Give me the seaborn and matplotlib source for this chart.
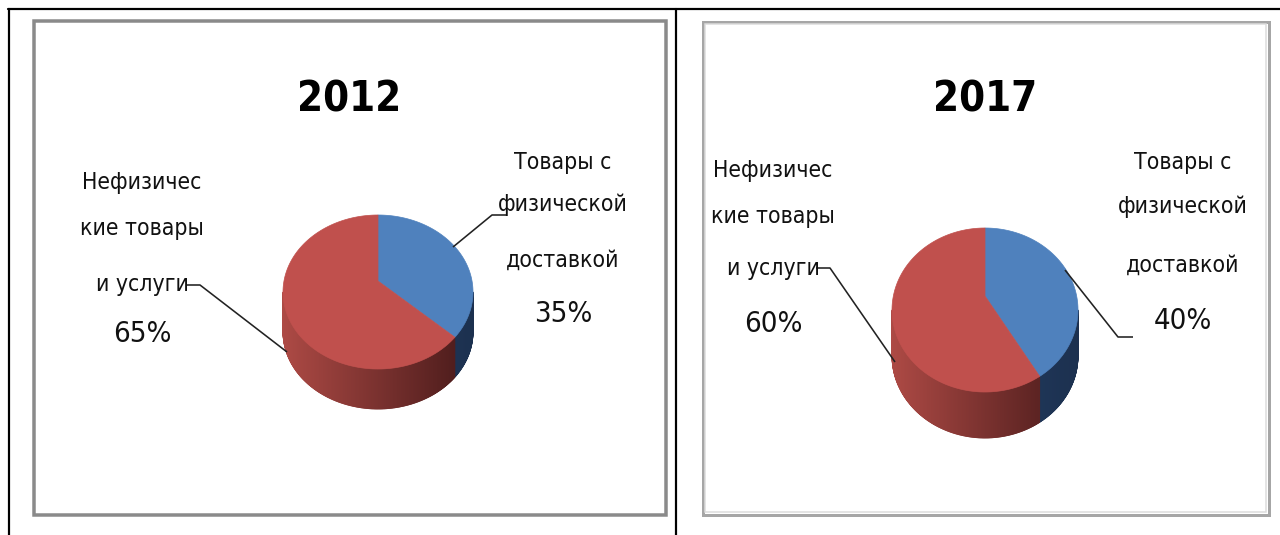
import numpy as np
import matplotlib
matplotlib.use("Agg")
import matplotlib.pyplot as plt
from matplotlib.patches import Polygon, Rectangle
from matplotlib.collections import PolyCollection
import seaborn as sns

# ---- data ----
years = ["2012", "2017"]
categories = ["Товары с физической доставкой", "Нефизические товары и услуги"]
shares_2012 = [35, 65]
shares_2017 = [40, 60]
label_lines_physical = ["Товары с", "физической", "доставкой"]
label_lines_digital = ["Нефизичес", "кие товары", "и услуги"]

sns.set_theme(style="white")
plt.rcParams["font.family"] = ["DejaVu Sans"]
plt.rcParams["font.stretch"] = "condensed"

top_colors = sns.color_palette(["#4F81BD", "#C0504D"])
side_light = [np.array([0.16, 0.28, 0.45]), np.array([0.68, 0.29, 0.27])]
side_dark = [np.array([0.11, 0.19, 0.31]), np.array([0.28, 0.10, 0.10])]

W, H = 1280, 535
fig = plt.figure(figsize=(W / 100, H / 100), dpi=100)
ax = fig.add_axes([0, 0, 1, 1])
ax.set_xlim(0, W)
ax.set_ylim(H, 0)
ax.axis("off")


def px(v):
    return v * 0.72


def rim(cx, cy, rx, ry, theta_deg):
    t = np.deg2rad(theta_deg)
    return cx + rx * np.cos(t), cy - ry * np.sin(t)


def pie3d(shares, cx, cy, rx, ry, depth, apex_y):
    total = float(sum(shares))
    start = 90.0
    spans = []
    for s in shares:
        end = start - 360.0 * s / total
        spans.append((end, start))
        start = end
    # side walls: only the front half (angles between -180 and 0) is visible
    polys, cols = [], []
    for i, (a0, a1) in enumerate(spans):
        for shift in (0.0, -360.0, 360.0):
            lo = max(a0 + shift, -180.0)
            hi = min(a1 + shift, 0.0)
            if hi <= lo:
                continue
            angs = np.linspace(lo, hi, max(int((hi - lo) * 2), 2))
            for t0, t1 in zip(angs[:-1], angs[1:]):
                x0, y0 = rim(cx, cy, rx, ry, t0)
                x1, y1 = rim(cx, cy, rx, ry, t1)
                polys.append([(x0, y0), (x1, y1), (x1, y1 + depth), (x0, y0 + depth)])
                f = np.clip(((x0 + x1) / 2 - (cx - rx)) / (2 * rx), 0, 1)
                cols.append(tuple(side_light[i] * (1 - f) + side_dark[i] * f))
    ax.add_collection(PolyCollection(polys, facecolors=cols, edgecolors=cols,
                                     linewidths=0.6, zorder=2))
    # top faces
    for i, (a0, a1) in enumerate(spans):
        angs = np.linspace(a1, a0, 200)
        pts = [rim(cx, cy, rx, ry, a) for a in angs]
        poly = Polygon([(cx, apex_y)] + pts, closed=True, facecolor=top_colors[i],
                       edgecolor=top_colors[i], linewidth=0.5, zorder=3)
        ax.add_patch(poly)


def label(lines, share, x, ys, y_pct, fs=16.5, fs_pct=21):
    for line, y in zip(lines, ys):
        ax.text(x, y, line, ha="center", va="center", fontsize=fs, color="#111111", zorder=5)
    ax.text(x, y_pct, f"{share}%", ha="center", va="center", fontsize=fs_pct,
            color="#111111", zorder=5)


def leader(points):
    xs, ys = zip(*points)
    ax.plot(xs, ys, color="#222222", lw=px(1.6), zorder=4, solid_capstyle="butt")


# ---- table grid ----
ax.plot([8, W], [9, 9], color="black", lw=px(2.2), zorder=1)
ax.plot([8.5, 8.5], [9, H], color="black", lw=px(2.2), zorder=1)
ax.plot([676, 676], [9, H], color="black", lw=px(2.2), zorder=1)

# ---- chart frames ----
ax.add_patch(Rectangle((34, 21), 632, 494, fill=False, edgecolor="#8a8a8a",
                       lw=px(3.5), zorder=1))
ax.add_patch(Rectangle((702.5, 21.5), 566, 493, fill=False, edgecolor="#a6a6a6",
                       lw=px(3), zorder=1))
ax.add_patch(Rectangle((705, 24), 561, 488, fill=False, edgecolor="#dcdcdc",
                       lw=px(1.5), zorder=1))

# ---- 2012 ----
ax.text(349, 100, years[0], ha="center", va="center", fontsize=30,
        fontweight="bold", color="black")
pie3d(shares_2012, 378, 292, 95, 77, 40, 281)
label(label_lines_digital, shares_2012[1], 142, [183, 228, 285], 334)
leader([(186, 285), (200, 285), (287, 352)])
label(label_lines_physical, shares_2012[0], 563, [163, 204, 260], 314)
leader([(507, 215), (492, 215), (453, 247)])

# ---- 2017 ----
ax.text(985, 100, years[1], ha="center", va="center", fontsize=30,
        fontweight="bold", color="black")
pie3d(shares_2017, 985, 310, 93, 82, 46, 296)
label(label_lines_digital, shares_2017[1], 773, [170, 216, 269], 324)
leader([(816, 268), (830, 268), (895, 362)])
label(label_lines_physical, shares_2017[0], 1183, [162, 207, 265], 321)
leader([(1065, 270), (1118, 337), (1133, 337)])

fig.savefig("out.png", dpi=100)
